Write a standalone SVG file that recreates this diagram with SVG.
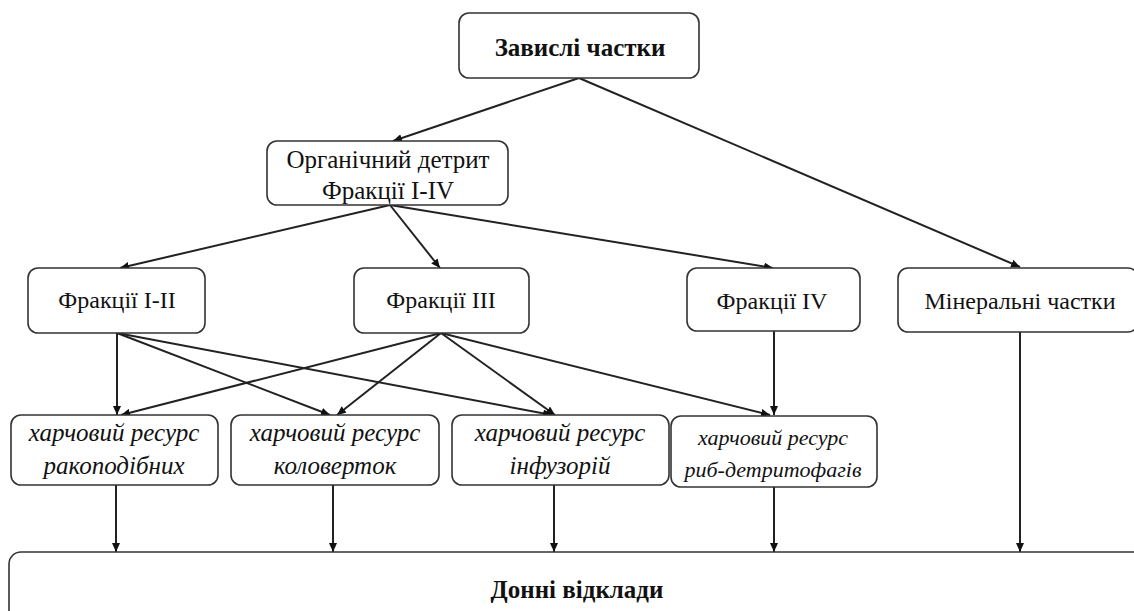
<svg xmlns="http://www.w3.org/2000/svg" width="1134" height="611" viewBox="0 0 1134 611">
<style>
.box{fill:#fff;stroke:#333;stroke-width:1.6}
.t{font-family:"Liberation Serif","Tinos","DejaVu Serif",serif;font-size:25px;fill:#111;text-anchor:middle}
.b{font-weight:bold}
.i{font-style:italic}
.s24{font-size:24px}
.s22{font-size:22px}
.c line{stroke:#222;stroke-width:2;marker-end:url(#ah)}
</style>
<defs>
<marker id="ah" markerUnits="userSpaceOnUse" markerWidth="10" markerHeight="8" refX="9" refY="4" orient="auto">
<path d="M0,0 L9,4 L0,8 z" fill="#111"/>
</marker>
</defs>
<rect width="1134" height="611" fill="#fff"/>
<g class="c" id="connectors">
<line x1="579" y1="78" x2="393" y2="141"/>
<line x1="579" y1="78" x2="1020" y2="267"/>
<line x1="390" y1="205" x2="120" y2="268"/>
<line x1="390" y1="205" x2="440" y2="268"/>
<line x1="390" y1="205" x2="773" y2="268"/>
<line x1="117" y1="333" x2="117" y2="415"/>
<line x1="117" y1="333" x2="330" y2="415"/>
<line x1="117" y1="333" x2="552" y2="415"/>
<line x1="441" y1="333" x2="121" y2="415"/>
<line x1="441" y1="333" x2="337" y2="415"/>
<line x1="441" y1="333" x2="555" y2="415"/>
<line x1="441" y1="333" x2="770" y2="415"/>
<line x1="774" y1="331" x2="774" y2="415"/>
<line x1="1020" y1="332" x2="1020" y2="552"/>
<line x1="116" y1="485" x2="116" y2="552"/>
<line x1="333" y1="485" x2="333" y2="552"/>
<line x1="554" y1="485" x2="554" y2="552"/>
<line x1="774" y1="487" x2="774" y2="552"/>
</g>
<g id="n-zavysli"><rect class="box" x="459" y="13" width="240" height="65" rx="10"/><text class="t b" x="580" y="56">Завислі частки</text></g>
<g id="n-organ"><rect class="box" x="267" y="141" width="241" height="64" rx="10"/><text class="t" x="388" y="168">Органічний детрит</text><text class="t" x="388" y="199">Фракції I-IV</text></g>
<g id="n-fr12"><rect class="box" x="28" y="268" width="177" height="65" rx="10"/><text class="t s24" x="117" y="308">Фракції I-II</text></g>
<g id="n-fr3"><rect class="box" x="354" y="268" width="175" height="65" rx="10"/><text class="t s24" x="441" y="308">Фракції III</text></g>
<g id="n-fr4"><rect class="box" x="687" y="268" width="173" height="63" rx="10"/><text class="t s24" x="772" y="309">Фракції IV</text></g>
<g id="n-min"><rect class="box" x="898" y="268" width="240" height="64" rx="10"/><text class="t s24" x="1020" y="309">Мінеральні частки</text></g>
<g id="n-rak"><rect class="box" x="11" y="415" width="207" height="70" rx="10"/><text class="t i" x="114" y="441">харчовий ресурс</text><text class="t i" x="114" y="474">ракоподібних</text></g>
<g id="n-kol"><rect class="box" x="231" y="415" width="208" height="70" rx="10"/><text class="t i" x="335" y="441">харчовий ресурс</text><text class="t i" x="335" y="474">коловерток</text></g>
<g id="n-inf"><rect class="box" x="452" y="415" width="217" height="70" rx="10"/><text class="t i" x="560" y="441">харчовий ресурс</text><text class="t i" x="560" y="474">інфузорій</text></g>
<g id="n-ryb"><rect class="box" x="671" y="416" width="206" height="71" rx="10"/><text class="t i s22" x="773" y="445">харчовий ресурс</text><text class="t i s22" x="773" y="477">риб-детритофагів</text></g>
<g id="n-donni"><rect class="box" x="9" y="552" width="1140" height="80" rx="12"/><text class="t b" x="577" y="598">Донні відклади</text></g>
</svg>
